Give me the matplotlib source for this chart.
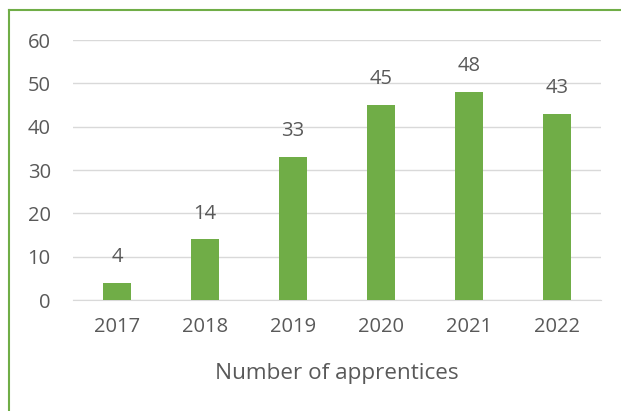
import matplotlib
matplotlib.use("Agg")
import matplotlib.pyplot as plt
from matplotlib.lines import Line2D

years = ["2017", "2018", "2019", "2020", "2021", "2022"]
apprentices = [4, 14, 33, 45, 48, 43]
yticks = [0, 10, 20, 30, 40, 50, 60]

green = "#70AD47"
textc = "#595959"

plt.rcParams['font.family'] = ['Open Sans', 'DejaVu Sans']
plt.rcParams['font.size'] = 14.5

W, H = 621, 411
fig = plt.figure(figsize=(W / 100, H / 100), dpi=100)
ax = fig.add_axes([73 / W, 1 - 300 / H, 528 / W, 260 / H])

x = list(range(len(years)))
bars = ax.bar(x, apprentices, width=0.32, color=green, zorder=3)
for xi, v in zip(x, apprentices):
    ax.annotate(str(v), (xi, v), xytext=(0, 18.5), textcoords="offset points",
                ha="center", va="center", color=textc, fontsize=14.5)

ax.set_xlim(-0.5, len(years) - 0.5)
ax.set_ylim(0, 60)
ax.set_yticks(yticks)
ax.set_xticks(x)
ax.set_xticklabels(years)
ax.grid(axis="y", color="#D9D9D9", linewidth=1, zorder=0)
for s in ["top", "right", "left"]:
    ax.spines[s].set_visible(False)
ax.spines["bottom"].set_color("#D9D9D9")
ax.tick_params(axis="both", length=0, colors=textc, labelsize=14.5)
ax.tick_params(axis="y", pad=16)
ax.tick_params(axis="x", pad=12)
ax.set_xlabel("Number of apprentices", color=textc, fontsize=16.2, labelpad=19)

# green outline of the chart area (left and top edges visible)
fig.add_artist(Line2D([8.5 / W, 8.5 / W], [0, 1 - 10.5 / H], transform=fig.transFigure,
                      color=green, linewidth=1.5))
fig.add_artist(Line2D([8.5 / W, 1], [1 - 10.5 / H, 1 - 10.5 / H], transform=fig.transFigure,
                      color=green, linewidth=1.5))

fig.savefig("out.png", dpi=100, facecolor="white")
